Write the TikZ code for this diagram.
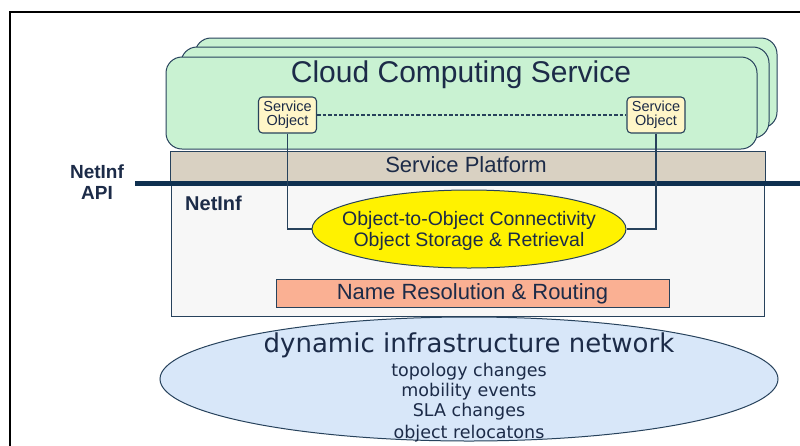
\documentclass[tikz,border=0pt]{standalone}
\usepackage{fontspec}
\setmainfont{Liberation Sans}
\newfontfamily\dvsans{DejaVu Sans}
\usetikzlibrary{shapes.geometric}

\definecolor{edge}{HTML}{27425C}
\definecolor{ink}{HTML}{1C2B48}
\definecolor{cloudfill}{HTML}{C9F2D2}
\definecolor{objfill}{HTML}{FFF6C8}
\definecolor{platfill}{HTML}{D9D1C2}
\definecolor{netfill}{HTML}{F7F7F7}
\definecolor{nrrfill}{HTML}{FAB093}
\definecolor{dynfill}{HTML}{D8E7F9}
\definecolor{apiline}{HTML}{0F3050}

\tikzset{
  cloudbox/.style={draw=edge, line width=1pt, fill=cloudfill, rounded corners=16pt,
    rectangle, inner sep=0pt},
  objbox/.style={draw=edge, line width=1.1pt, fill=objfill, rounded corners=4pt,
    rectangle, inner sep=0pt, minimum width=58pt, minimum height=36pt,
    align=center, text=ink, font=\fontsize{14.5}{14}\selectfont},
  layerbox/.style={draw=edge, line width=1pt, rectangle, inner sep=0pt},
  wire/.style={draw=edge, line width=1.1pt},
  lbl/.style={text=ink, inner sep=0pt},
}

\begin{document}
\begin{tikzpicture}[x=1pt,y=-1pt]
\useasboundingbox (0,0) rectangle (800,445);

% outer frame
\draw[line width=2pt, black] (10,460) -- (10,12) -- (810,12);

% stacked cloud service boxes
\node[cloudbox, minimum width=582pt, minimum height=90pt] (back2) at (486,83) {};
\node[cloudbox, minimum width=588pt, minimum height=91pt] (back1) at (475,92.5) {};
\node[cloudbox, minimum width=591pt, minimum height=92pt] (cloud) at (461.5,103) {};
\node[lbl, font=\fontsize{30}{32}\selectfont] (cloudtitle) at (461,75) {Cloud Computing Service};

% NetInf layer and service platform
\node[layerbox, fill=netfill, minimum width=593pt, minimum height=133pt] (netinf) at (467.5,249.5) {};
\node[layerbox, fill=platfill, minimum width=595pt, minimum height=33pt] (platform) at (467.5,167.5) {};
\node[lbl, font=\fontsize{22}{24}\selectfont] (platlabel) at (466,165) {Service Platform};
\node[lbl, font=\bfseries\fontsize{20}{22}\selectfont, anchor=west] (netlabel) at (185,203) {NetInf};

% service objects
\node[objbox] (so1) at (287.5,115) {Service\\Object};
\node[objbox] (so2) at (656,115) {Service\\Object};
\draw[wire, dash pattern=on 3.5pt off 2pt] (so1.east) -- (so2.west);

% API line
\coordinate (apiL) at (135,183);
\coordinate (apiR) at (805,183);
\draw[line width=5pt, apiline] (apiL) -- (apiR);
\node[lbl, font=\bfseries\fontsize{19}{21}\selectfont, align=center] (apilabel) at (97,182) {NetInf\\API};

% object connectivity ellipse
\node[ellipse, draw=edge, line width=1pt, fill=yellow, minimum width=314pt, minimum height=78pt,
  inner sep=0pt] (obj) at (469,229) {};
\node[lbl, font=\fontsize{19.5}{21}\selectfont, align=center] (objtext) at (469,231)
  {Object-to-Object Connectivity\\Object Storage \& Retrieval};
\draw[wire] (so1.south) |- (obj.west);
\draw[wire] (so2.south) |- (obj.east);

% name resolution
\node[layerbox, fill=nrrfill, minimum width=393pt, minimum height=28pt] (nrr) at (472.5,293) {};
\node[lbl, font=\fontsize{22}{24}\selectfont] (nrrtext) at (472.5,294) {Name Resolution \& Routing};

% dynamic infrastructure network
\node[ellipse, draw=edge, line width=1pt, fill=dynfill, minimum width=618pt, minimum height=124pt,
  inner sep=0pt] (dyn) at (469,379) {};
\node[lbl, font=\dvsans\fontsize{26}{28}\selectfont] (dyntitle) at (469,345) {dynamic infrastructure network};
\node[lbl, font=\dvsans\fontsize{17.5}{19}\selectfont] (ev1) at (469,372) {topology changes};
\node[lbl, font=\dvsans\fontsize{17.5}{19}\selectfont] (ev2) at (469,392) {mobility events};
\node[lbl, font=\dvsans\fontsize{17.5}{19}\selectfont] (ev3) at (469,412) {SLA changes};
\node[lbl, font=\dvsans\fontsize{17.5}{19}\selectfont] (ev4) at (469,434) {object relocatons};
\end{tikzpicture}
\end{document}
